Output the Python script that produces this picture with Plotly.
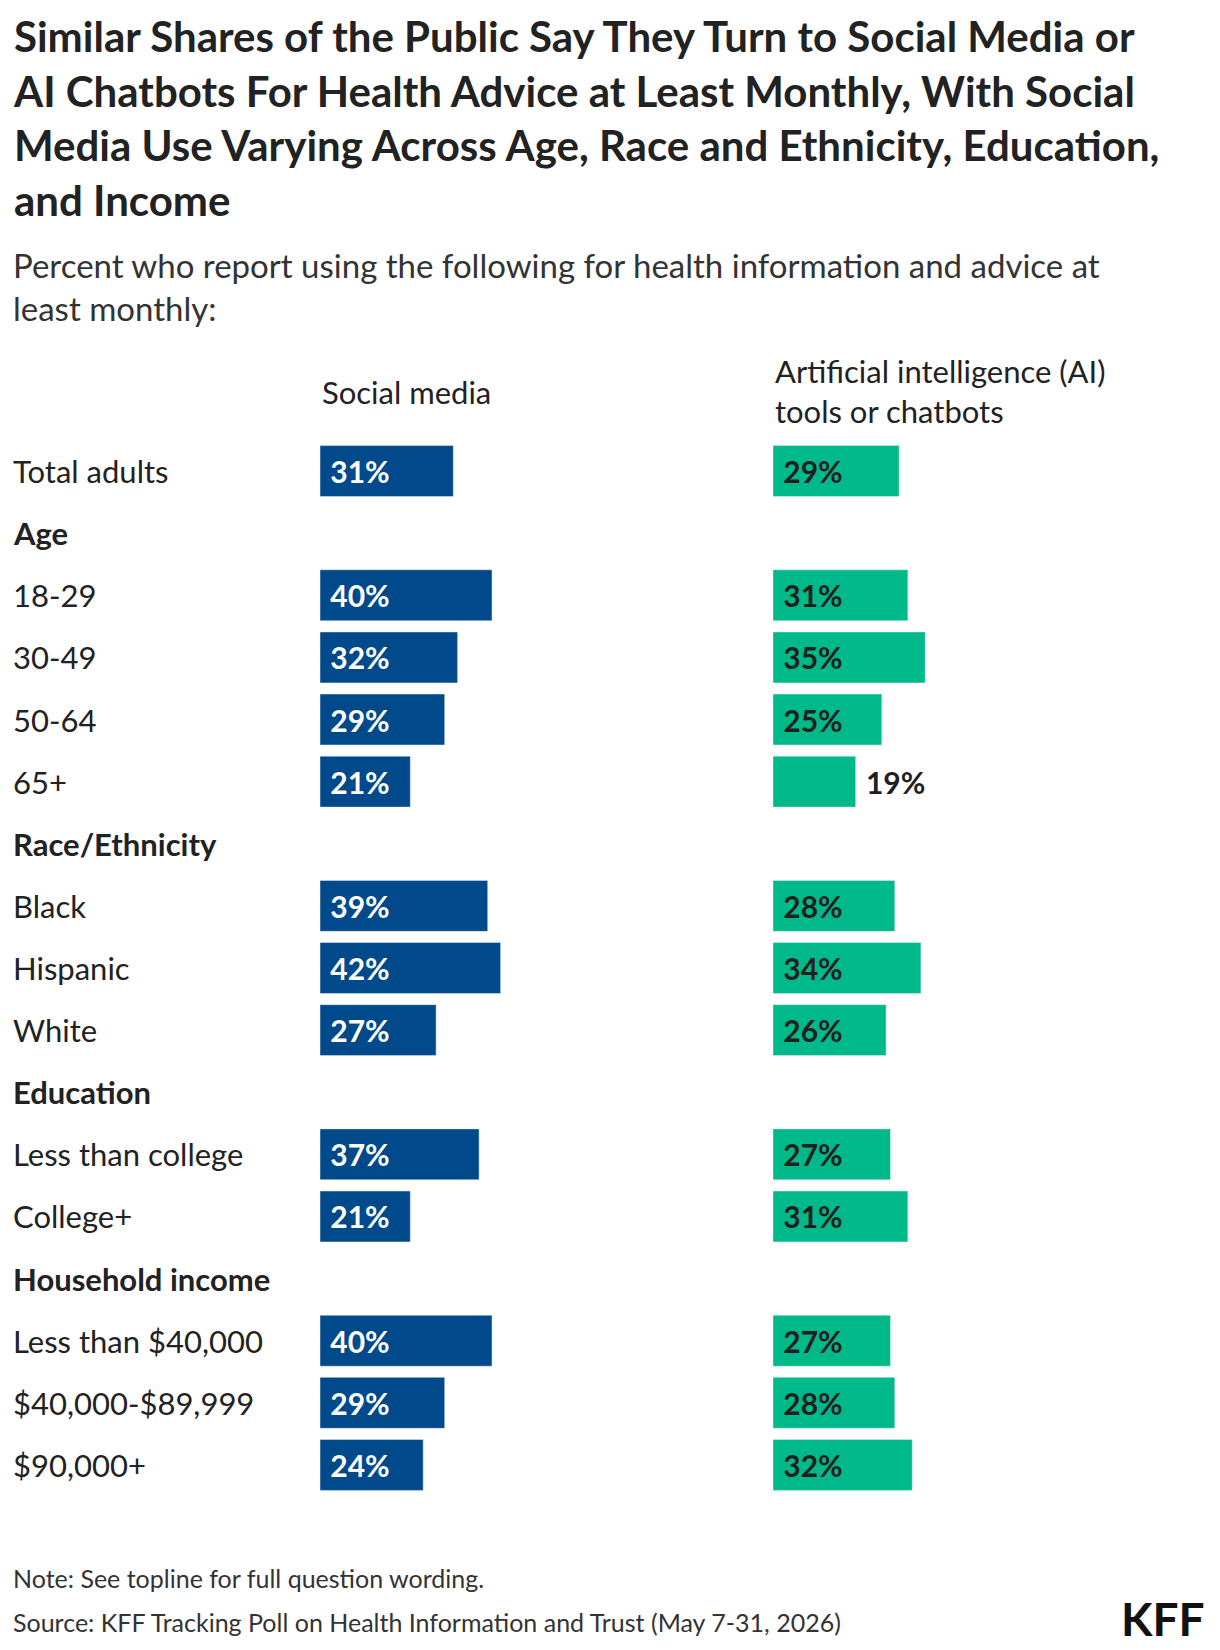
import plotly.graph_objects as go

# rows in display order; None values mark section headers
rows = ["Total adults", "Age", "18-29", "30-49", "50-64", "65+",
        "Race/Ethnicity", "Black", "Hispanic", "White",
        "Education", "Less than college", "College+",
        "Household income", "Less than $40,000", "$40,000-$89,999", "$90,000+"]
social = [31, None, 40, 32, 29, 21, None, 39, 42, 27, None, 37, 21, None, 40, 29, 24]
ai = [29, None, 31, 35, 25, 19, None, 28, 34, 26, None, 27, 31, None, 27, 28, 32]
headers = {"Age", "Race/Ethnicity", "Education", "Household income"}

W, H = 1220, 1650
OFF = 8  # page body margin
FONT = "Lato"
BLUE = "#00498a"
GREEN = "#00b98a"
top, bottom = 440 - OFF, 1496 - OFF


def px(x):
    return (x - OFF) / W


def py(y):
    # pixel row -> plot-area paper coordinate
    return (bottom - (y - OFF)) / (bottom - top)


idx = [i for i, v in enumerate(social) if v is not None]
fig = go.Figure()
fig.add_trace(go.Bar(
    x=[social[i] for i in idx], y=idx, orientation="h", marker_color=BLUE,
    width=0.82, text=[f"\u00a0{social[i]}%" for i in idx], textposition="inside",
    insidetextanchor="start", textangle=0,
    textfont=dict(family=FONT, size=30, color="white", weight="bold"),
    xaxis="x", yaxis="y", hoverinfo="skip"))
fig.add_trace(go.Bar(
    x=[ai[i] for i in idx], y=idx, orientation="h", marker_color=GREEN,
    width=0.82, text=[f"\u00a0{ai[i]}%" for i in idx],
    textposition=["outside" if ai[i] < 20 else "inside" for i in idx],
    insidetextanchor="start", textangle=0, cliponaxis=False,
    textfont=dict(family=FONT, size=30, color="#1f1f1f", weight="bold"),
    xaxis="x2", yaxis="y", hoverinfo="skip"))

ann = []
for i, r in enumerate(rows):
    ann.append(dict(x=px(11), xref="paper", y=i, yref="y", text=r, showarrow=False,
                    xanchor="left", yanchor="middle",
                    font=dict(family=FONT, size=31, color="#222",
                              weight="bold" if r in headers else "normal")))


def text(x, y, t, size, weight="normal", color="#222", anchor="left"):
    ann.append(dict(x=px(x), xref="paper", y=py(y), yref="paper", text=t,
                    showarrow=False, xanchor=anchor, yanchor="middle", align="left",
                    font=dict(family=FONT, size=size, color=color, weight=weight)))


text(320, 392, "Social media", 31)
text(773, 391, "Artificial intelligence (AI)<br>tools or chatbots", 31)
text(11, 118, "Similar Shares of the Public Say They Turn to Social Media or<br>"
              "AI Chatbots For Health Advice at Least Monthly, With Social<br>"
              "Media Use Varying Across Age, Race and Ethnicity, Education,<br>and Income",
     42, weight="bold")
text(11, 286, "Percent who report using the following for health information and advice at<br>least monthly:",
     33, color="#333")
text(11, 1578, "Note: See topline for full question wording.", 25, color="#333")
text(11, 1622, "Source: KFF Tracking Poll on Health Information and Trust (May 7-31, 2026)",
     25, color="#333")
text(1207, 1618, "KFF", 46, weight="bold", color="#111", anchor="right")

ax = dict(range=[0, 100], showgrid=False, zeroline=False, showticklabels=False, fixedrange=True)
fig.update_layout(
    width=W, height=H, plot_bgcolor="white", paper_bgcolor="white",
    margin=dict(l=0, r=0, t=top, b=H - bottom),
    showlegend=False, barmode="overlay",
    xaxis=dict(domain=[px(320), px(750)], **ax),
    xaxis2=dict(domain=[px(773), px(1208)], anchor="y", **ax),
    yaxis=dict(range=[len(rows) - 0.5, -0.5], showgrid=False, zeroline=False,
               showticklabels=False),
    annotations=ann,
    uniformtext=dict(minsize=30, mode="show"),
)
fig.write_html("out.html")
